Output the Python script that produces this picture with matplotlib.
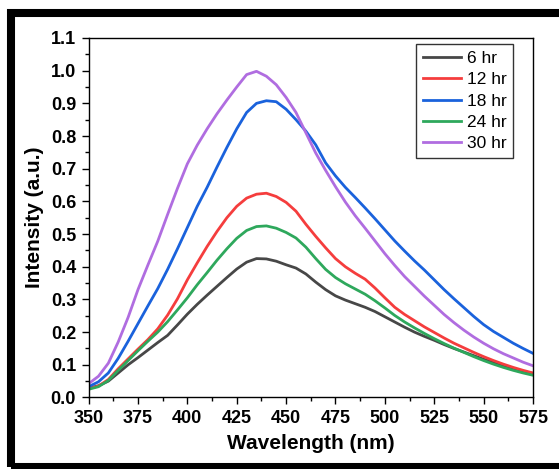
import matplotlib
matplotlib.use("Agg")
import matplotlib.pyplot as plt
from matplotlib.patches import Rectangle

plt.rcParams['font.family'] = ['Liberation Sans', 'DejaVu Sans']

wavelength = list(range(350, 580, 5))

hr6 = [0.028, 0.036, 0.050, 0.075, 0.100, 0.122, 0.145, 0.168, 0.190, 0.222,
       0.255, 0.285, 0.313, 0.340, 0.367, 0.393, 0.414, 0.425, 0.424, 0.417,
       0.406, 0.396, 0.378, 0.353, 0.330, 0.311, 0.298, 0.287, 0.276, 0.263,
       0.247, 0.231, 0.215, 0.200, 0.187, 0.175, 0.162, 0.150, 0.139, 0.128,
       0.117, 0.107, 0.097, 0.088, 0.080, 0.073]

hr12 = [0.027, 0.035, 0.055, 0.088, 0.118, 0.148, 0.177, 0.210, 0.252, 0.302,
        0.360, 0.412, 0.462, 0.508, 0.550, 0.585, 0.610, 0.622, 0.625, 0.615,
        0.597, 0.570, 0.530, 0.493, 0.458, 0.425, 0.400, 0.380, 0.362, 0.335,
        0.305, 0.276, 0.254, 0.235, 0.216, 0.199, 0.182, 0.166, 0.152, 0.138,
        0.125, 0.113, 0.102, 0.092, 0.083, 0.075]

hr18 = [0.033, 0.048, 0.075, 0.120, 0.172, 0.226, 0.280, 0.333, 0.392, 0.455,
        0.520, 0.585, 0.643, 0.705, 0.765, 0.822, 0.872, 0.900, 0.908, 0.905,
        0.882, 0.850, 0.815, 0.773, 0.718, 0.678, 0.643, 0.612, 0.580, 0.547,
        0.513, 0.479, 0.448, 0.418, 0.390, 0.360, 0.330, 0.302, 0.275, 0.248,
        0.223, 0.202, 0.184, 0.166, 0.150, 0.135]

hr24 = [0.025, 0.033, 0.052, 0.083, 0.113, 0.143, 0.172, 0.200, 0.232, 0.268,
        0.305, 0.345, 0.382, 0.420, 0.455, 0.487, 0.511, 0.523, 0.525, 0.518,
        0.505, 0.488, 0.460, 0.425, 0.392, 0.367, 0.348, 0.332, 0.316, 0.296,
        0.274, 0.251, 0.231, 0.213, 0.196, 0.180, 0.165, 0.151, 0.138, 0.125,
        0.113, 0.102, 0.092, 0.083, 0.075, 0.068]

hr30 = [0.042, 0.065, 0.105, 0.170, 0.245, 0.330, 0.405, 0.478, 0.560, 0.640,
        0.715, 0.772, 0.822, 0.868, 0.910, 0.950, 0.988, 0.998, 0.983, 0.957,
        0.918, 0.872, 0.810, 0.748, 0.695, 0.645, 0.598, 0.556, 0.518, 0.479,
        0.440, 0.404, 0.370, 0.340, 0.310, 0.282, 0.254, 0.229, 0.206, 0.185,
        0.166, 0.149, 0.134, 0.121, 0.108, 0.097]

series = [("6 hr", hr6, "#474747"),
          ("12 hr", hr12, "#f53d3d"),
          ("18 hr", hr18, "#1a62dc"),
          ("24 hr", hr24, "#2ea85c"),
          ("30 hr", hr30, "#b06de0")]

xticks = [350, 375, 400, 425, 450, 475, 500, 525, 550, 575]
yticks = [0.0, 0.1, 0.2, 0.3, 0.4, 0.5, 0.6, 0.7, 0.8, 0.9, 1.0, 1.1]

fig = plt.figure(figsize=(5.59, 4.69), dpi=100)
ax = fig.add_axes([0.1585, 0.1525, 0.795, 0.7665])

for label, vals, col in series:
    ax.plot(wavelength, vals, color=col, lw=2.0, label=label)

ax.set_xlim(350, 575)
ax.set_ylim(0, 1.1)
ax.set_xticks(xticks)
ax.set_xticklabels([str(v) for v in xticks])
ax.set_yticks(yticks)
ax.set_yticklabels([f"{v:.1f}" for v in yticks])
ax.set_xticks([x + 12.5 for x in xticks[:-1]], minor=True)
ax.set_yticks([y + 0.05 for y in yticks[:-1]], minor=True)
ax.tick_params(which='major', direction='out', length=5, width=1.0,
               labelsize=13, pad=4)
ax.tick_params(which='minor', direction='out', length=3, width=1.0)
for lab in ax.get_xticklabels() + ax.get_yticklabels():
    lab.set_fontweight('bold')
for sp in ax.spines.values():
    sp.set_linewidth(1.0)

ax.set_xlabel("Wavelength (nm)", fontsize=15, fontweight='bold', labelpad=5)
ax.set_ylabel("Intensity (a.u.)", fontsize=15, fontweight='bold', labelpad=5)

leg = ax.legend(loc='upper right', bbox_to_anchor=(0.9557, 0.983), fontsize=12.5,
                frameon=True, fancybox=False, handlelength=2.2,
                handletextpad=0.3, labelspacing=0.35, borderpad=0.4,
                borderaxespad=0.0)
leg.get_frame().set_edgecolor('black')
leg.get_frame().set_linewidth(1.0)

W, H = 559, 469
fig.patches.append(Rectangle((11 / W, 1 - 467 / H), (561 - 11) / W, (467 - 13) / H,
                             transform=fig.transFigure, fill=False,
                             edgecolor='black', lw=5.8, zorder=10))

fig.savefig("out.png", dpi=100)
